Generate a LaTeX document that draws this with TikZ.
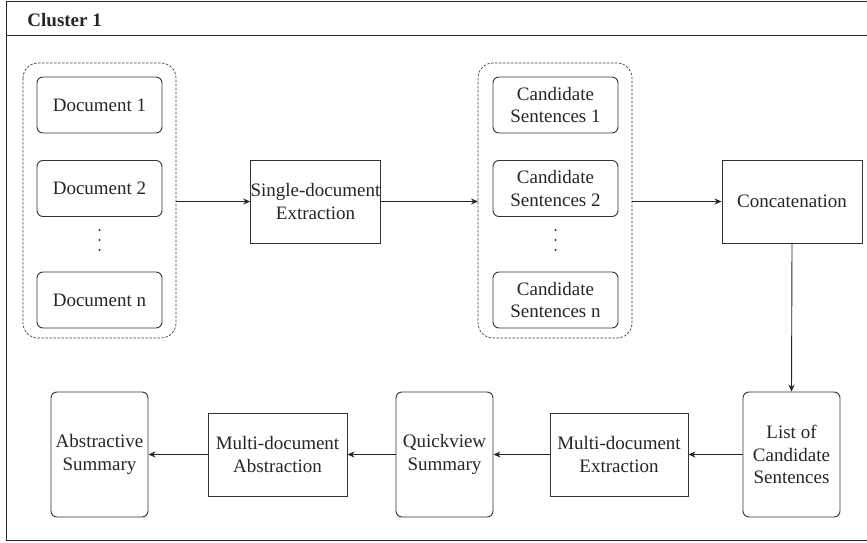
\documentclass[tikz,border=0pt]{standalone}
\usepackage{fontspec}
\setmainfont{Liberation Serif}
\usetikzlibrary{arrows.meta}
\begin{document}
\begin{tikzpicture}[x=1pt,y=-1pt,
  line width=0.9pt,
  every node/.style={font=\fontsize{19}{22.8}\selectfont, text=black!85},
  rbox/.style={draw=black!80, rounded corners=6pt, align=center, inner sep=0pt, anchor=center},
  sbox/.style={draw=black!80, align=center, inner sep=0pt, anchor=center},
  grp/.style={draw=black!75, dashed, dash pattern=on 2.5pt off 1.5pt, line width=0.7pt, rounded corners=15pt},
  arr/.style={draw=black!85, -{Stealth[length=7pt,width=6pt]}}
]
\useasboundingbox (0,0) rectangle (867,543);
% frame
\draw[draw=black!85] (870,1) -- (6,1) -- (6,540) -- (870,540);
\draw[draw=black!85] (6,35) -- (870,35);
\node[anchor=base west, inner sep=0pt, font=\fontsize{19}{22.8}\selectfont\bfseries] (title) at (27,27) {Cluster 1};

% group 1
\draw[grp] (23,63) rectangle (176,338);
\coordinate (g1e) at (176,201.5);
\node[rbox, minimum width=125pt, minimum height=56pt] (d1) at (99.5,105) {Document 1};
\node[rbox, minimum width=125pt, minimum height=56pt] (d2) at (99.5,188.5) {Document 2};
\node[rbox, minimum width=125pt, minimum height=56pt] (dn) at (99.5,300) {Document n};
\fill[black!80] (99.5,230) circle (1.1pt) (99.5,240) circle (1.1pt) (99.5,250) circle (1.1pt);

\node[sbox, minimum width=115pt, minimum height=83pt] (single) at (315.5,201.5) {Single-document\\Extraction};

% group 2
\draw[grp] (478,63) rectangle (632,338);
\coordinate (g2w) at (478,201.5);
\coordinate (g2e) at (632,201.5);
\node[rbox, minimum width=125pt, minimum height=56pt] (c1) at (555.5,105) {Candidate\\Sentences 1};
\node[rbox, minimum width=125pt, minimum height=56pt] (c2) at (555.5,188.5) {Candidate\\Sentences 2};
\node[rbox, minimum width=125pt, minimum height=56pt] (cn) at (555.5,300) {Candidate\\Sentences n};
\fill[black!80] (555.5,230) circle (1.1pt) (555.5,240) circle (1.1pt) (555.5,250) circle (1.1pt);

\node[sbox, minimum width=140pt, minimum height=83pt] (concat) at (792,201.5) {Concatenation};

% bottom row
\node[rbox, minimum width=97pt, minimum height=125pt] (list) at (791.5,454.5) {List of\\Candidate\\Sentences};
\node[sbox, minimum width=138pt, minimum height=83pt] (mext) at (619,454.5) {Multi-document\\Extraction};
\node[rbox, minimum width=97pt, minimum height=125pt] (quick) at (444.5,454.5) {Quickview\\Summary};
\node[sbox, minimum width=139pt, minimum height=83pt] (mabs) at (277.5,454.5) {Multi-document\\Abstraction};
\node[rbox, minimum width=97pt, minimum height=125pt] (abs) at (99.5,454.5) {Abstractive\\Summary};

% connectors
\draw[arr] (g1e) -- (single.west);
\draw[arr] (single.east) -- (g2w);
\draw[arr] (g2e) -- (concat.west);
\draw[arr] (concat.south) -- (list.north);
\draw[arr] (list.west) -- (mext.east);
\draw[arr] (mext.west) -- (quick.east);
\draw[arr] (quick.west) -- (mabs.east);
\draw[arr] (mabs.west) -- (abs.east);
\end{tikzpicture}
\end{document}
